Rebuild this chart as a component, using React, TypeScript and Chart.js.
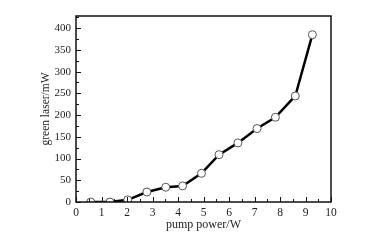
import React, { useEffect, useRef } from "react";
import { Chart, registerables } from "chart.js";

Chart.register(...registerables);

const pumpPower = [0.58, 1.33, 2.03, 2.78, 3.52, 4.18, 4.92, 5.61, 6.35, 7.1, 7.82, 8.6, 9.27];
const greenLaser = [0, 0, 5, 23, 34, 37, 66, 109, 136, 169, 195, 244, 385];
const xTicks = [0, 1, 2, 3, 4, 5, 6, 7, 8, 9, 10];
const yTicks = [0, 50, 100, 150, 200, 250, 300, 350, 400];

const FONT = "'Times New Roman', 'Liberation Serif', serif";

const framePlugin = {
  id: "frameTicks",
  afterDatasetsDraw(chart: any) {
    const { ctx, chartArea, scales } = chart;
    const { left, right, top, bottom } = chartArea;
    const xs = scales.x;
    const ys = scales.y;
    ctx.save();
    ctx.strokeStyle = "#111";
    ctx.lineWidth = 1;
    ctx.beginPath();
    xTicks.forEach((v) => {
      const px = Math.round(xs.getPixelForValue(v)) + 0.5;
      ctx.moveTo(px, bottom);
      ctx.lineTo(px, bottom - 5);
    });
    for (let i = 0; i < xTicks.length - 1; i++) {
      const v = (xTicks[i] + xTicks[i + 1]) / 2;
      const px = Math.round(xs.getPixelForValue(v)) + 0.5;
      ctx.moveTo(px, bottom);
      ctx.lineTo(px, bottom - 3);
    }
    yTicks.forEach((v) => {
      const py = Math.round(ys.getPixelForValue(v)) + 0.5;
      ctx.moveTo(left, py);
      ctx.lineTo(left + 5, py);
    });
    for (let i = 0; i < yTicks.length; i++) {
      const v = yTicks[i] + 25;
      if (v > ys.max) continue;
      const py = Math.round(ys.getPixelForValue(v)) + 0.5;
      ctx.moveTo(left, py);
      ctx.lineTo(left + 3, py);
    }
    ctx.stroke();
    ctx.lineWidth = 1.5;
    ctx.strokeRect(left, top, right - left, bottom - top);
    ctx.restore();
  },
};

export default function App() {
  const ref = useRef<HTMLCanvasElement>(null);
  useEffect(() => {
    if (!ref.current) return;
    const chart = new Chart(ref.current, {
      type: "line",
      data: {
        datasets: [
          {
            data: pumpPower.map((x, i) => ({ x, y: greenLaser[i] })),
            borderColor: "#000",
            borderWidth: 2.5,
            pointRadius: 4,
            pointBackgroundColor: "#fff",
            pointBorderColor: "#555",
            pointBorderWidth: 1,
            tension: 0,
          },
        ],
      },
      plugins: [framePlugin],
      options: {
        animation: false,
        responsive: false,
        maintainAspectRatio: false,
        layout: { padding: { left: 0, right: 35, top: 16, bottom: 0 } },
        plugins: { legend: { display: false }, tooltip: { enabled: false } },
        scales: {
          x: {
            type: "linear",
            min: 0,
            max: 10,
            grid: { display: false, drawTicks: false },
            border: { display: false },
            afterBuildTicks: (s: any) => {
              s.ticks = xTicks.map((v) => ({ value: v }));
            },
            afterFit: (s: any) => {
              s.height = 38;
            },
            ticks: {
              padding: 4,
              color: "#222",
              font: { family: FONT, size: 11.5 },
              maxRotation: 0,
            },
            title: {
              display: true,
              text: "pump power/W",
              color: "#222",
              font: { family: FONT, size: 12 },
              padding: { top: 0, bottom: 7.5 },
            },
          },
          y: {
            type: "linear",
            min: 0,
            max: 428,
            grid: { display: false, drawTicks: false },
            border: { display: false },
            afterBuildTicks: (s: any) => {
              s.ticks = yTicks.map((v) => ({ value: v }));
            },
            afterFit: (s: any) => {
              s.width = 76;
            },
            ticks: {
              padding: 5,
              color: "#222",
              font: { family: FONT, size: 11 },
            },
            title: {
              display: true,
              text: "green laser/mW",
              color: "#222",
              font: { family: FONT, size: 11.5 },
              padding: { top: 39.5, bottom: 0 },
            },
          },
        },
      },
    });
    return () => chart.destroy();
  }, []);
  return (
    <div style={{ position: "fixed", left: 0, top: 0, width: 366, height: 240, background: "#fff" }}>
      <canvas ref={ref} width={366} height={240} style={{ width: 366, height: 240 }} />
    </div>
  );
}
